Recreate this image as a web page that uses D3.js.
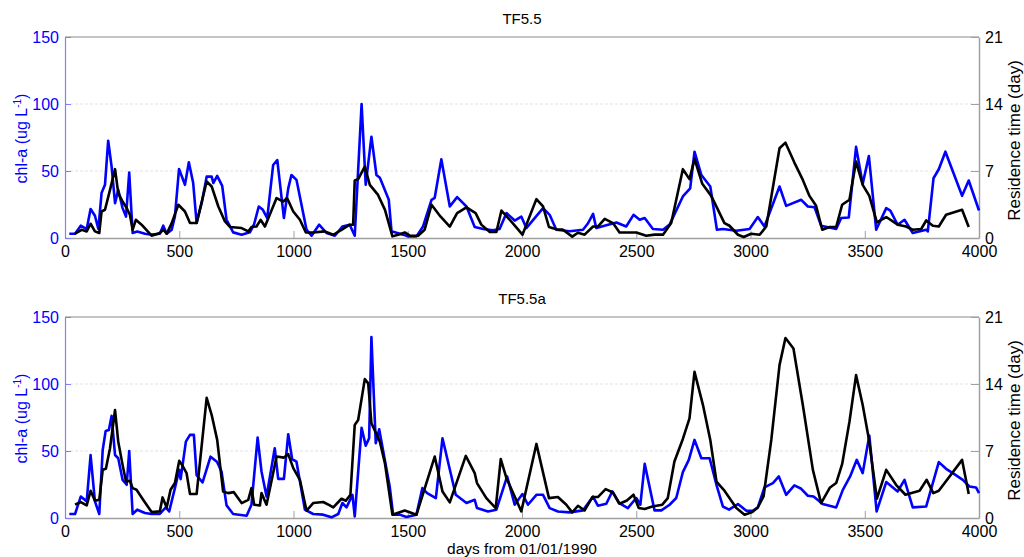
<!DOCTYPE html>
<html><head><meta charset="utf-8">
<script src="https://cdn.jsdelivr.net/npm/d3@7"></script>
<style>
html,body{margin:0;padding:0;background:#fff;}
svg{display:block;font-family:"Liberation Sans",Arial,sans-serif;}
</style></head>
<body>
<svg id="chart" width="1024" height="557"></svg>
<script>
// ---- data ----
const panelTitles = ["TF5.5", "TF5.5a"];
const xTicks = [0, 500, 1000, 1500, 2000, 2500, 3000, 3500, 4000];
const chlTicks = [0, 50, 100, 150];
const resTicks = [0, 7, 14, 21];
const xLabel = "days from 01/01/1990";
const rightLabel = "Residence time (day)";

// TF5.5 chl-a [day, ug/L]
const chlTop = [[19,3.2],[44,3.2],[69,9.2],[95,6.7],[112,21.6],[131,16.6],[146,6.7],[160,33.5],[175,39.7],[189,72.6],[204,53.3],[219,26],[233,36],[252,22.3],[267,16],[281,48.8],[296,3.7],[316,4.9],[350,3.2],[379,2.5],[415,3.2],[430,9.2],[445,3.2],[467,6.2],[481,16],[499,51.5],[525,39.7],[542,56.5],[561,41],[576,11.2],[598,26],[620,45.8],[642,45.8],[649,41],[666,46.3],[688,38.9],[707,13.6],[736,4.2],[773,2.5],[809,4.2],[827,9.9],[848,23.5],[866,21],[885,14.9],[911,54.5],[929,58.2],[958,14.9],[977,37],[991,47],[1013,43.4],[1057,6.2],[1079,1.7],[1112,9.9],[1145,3.7],[1181,1.7],[1214,8.6],[1246,9.9],[1268,1.7],[1298,100],[1316,39.7],[1341,75.6],[1363,47],[1378,45],[1417,28.5],[1429,5],[1480,2.5],[1500,1.2],[1538,1.2],[1567,8.6],[1604,28.5],[1618,30],[1647,58.8],[1684,23.5],[1716,30.5],[1757,23.5],[1793,8.2],[1830,6.7],[1873,5.7],[1902,6.7],[1932,18.6],[1968,13],[1997,16],[2019,7.4],[2092,22.3],[2121,17.3],[2150,6.2],[2209,5],[2267,6.2],[2289,11],[2311,18],[2325,7.4],[2413,11.6],[2456,8.6],[2488,17.3],[2515,13.6],[2537,14.9],[2573,6.7],[2617,6.2],[2646,10],[2704,31],[2736,37],[2755,64.4],[2785,47],[2824,38.4],[2853,6.2],[2879,6.7],[2938,5.4],[2996,6.7],[3032,15.6],[3061,8.6],[3127,38.4],[3156,24],[3222,28.5],[3251,23.5],[3280,23],[3309,9.2],[3375,6.7],[3397,14.9],[3430,15.3],[3462,68],[3491,40.4],[3518,61.2],[3550,6.2],[3594,22.3],[3612,20.5],[3644,9.9],[3674,13.6],[3710,3.7],[3769,6.2],[3776,4.9],[3801,44.6],[3824,51.3],[3853,64.4],[3926,31.5],[3955,42.9],[4000,20.5]];

// TF5.5 residence time [day, days]
const resTop = [[44,0.45],[73,0.86],[95,0.69],[112,1.49],[131,0.69],[150,0.52],[160,2.77],[175,2.95],[197,5.03],[219,7.19],[233,4.69],[252,3.81],[270,3.12],[284,2.43],[296,0.86],[310,1.9],[335,1.39],[379,0.24],[415,0.52],[430,0.86],[445,0.45],[467,1.56],[496,3.47],[525,2.77],[547,1.56],[576,1.56],[620,5.9],[642,5.38],[671,3.29],[700,1.73],[722,1.15],[773,1.04],[802,0.69],[816,1.15],[838,1.2],[856,1.9],[875,1.2],[926,4.17],[955,3.81],[972,4.17],[999,2.77],[1028,1.9],[1054,0.58],[1086,0.58],[1137,0.69],[1174,0.34],[1210,0.86],[1246,1.39],[1261,1.39],[1268,6.0],[1283,6.15],[1312,7.46],[1334,5.55],[1370,4.5],[1400,2.96],[1433,0.17],[1458,0.35],[1487,0.58],[1509,0.24],[1545,0.24],[1574,0.87],[1604,3.47],[1643,2.25],[1684,1.2],[1716,2.6],[1757,3.2],[1797,2.6],[1822,1.4],[1859,0.62],[1888,0.62],[1910,2.87],[1961,1.5],[2002,0.35],[2063,4.06],[2092,3.3],[2118,1.15],[2157,0.87],[2179,0.87],[2220,0.14],[2245,0.55],[2274,0.35],[2311,1.2],[2332,1.2],[2362,2.0],[2398,1.56],[2427,0.58],[2500,0.58],[2544,0.24],[2580,0.35],[2617,0.35],[2653,1.56],[2704,7.19],[2733,6.15],[2755,8.26],[2789,5.66],[2828,4.4],[2886,1.56],[2908,1.28],[2945,0.34],[2970,0.1],[3003,0.45],[3040,0.34],[3069,1.2],[3127,9.37],[3153,9.96],[3192,7.88],[3229,6.07],[3258,4.4],[3287,3.36],[3314,0.86],[3346,1.15],[3375,1.15],[3401,3.47],[3433,4.0],[3462,7.98],[3491,5.55],[3520,4.4],[3553,1.63],[3594,2.19],[3644,1.39],[3681,1.2],[3710,0.86],[3747,0.94],[3769,1.83],[3798,1.28],[3824,1.2],[3856,2.43],[3926,2.95],[3955,1.15]];

// TF5.5a chl-a [day, ug/L]
const chlBottom = [[19,3],[44,3],[69,16],[95,12.4],[112,47],[131,12.4],[150,3],[165,50.8],[178,65],[192,65.7],[204,76.3],[219,47],[233,44.6],[252,28.5],[270,24.8],[281,50],[296,3],[316,6.2],[350,3.7],[379,3],[415,3],[441,7.9],[456,4.9],[481,22.3],[500,36],[506,29],[529,57],[547,62],[564,62],[576,32],[602,26.5],[637,45.8],[666,41.7],[685,34.7],[707,9.4],[736,3],[795,1.7],[816,9.9],[843,60],[860,34.7],[882,16],[918,52],[933,29.2],[958,29.2],[977,62.5],[994,44],[1013,42],[1050,6.2],[1086,3],[1130,2.5],[1166,0.5],[1196,3],[1214,11.2],[1232,7.9],[1258,17.3],[1268,1.2],[1298,67.4],[1316,54],[1331,59.5],[1341,135],[1360,55.8],[1375,66.2],[1421,23.5],[1436,2.5],[1465,2.5],[1494,0.7],[1538,2.5],[1564,22.3],[1585,18.6],[1623,14.9],[1652,59.5],[1710,17.3],[1757,11.2],[1793,13.6],[1803,7.4],[1851,4.9],[1888,6.2],[1935,31],[1968,9.9],[2002,17.9],[2026,9.9],[2063,17.3],[2092,17.3],[2121,7.4],[2157,4.9],[2209,4.2],[2267,5.7],[2311,16],[2332,9.2],[2369,10.6],[2395,19.8],[2424,11.2],[2463,7.4],[2500,14.9],[2518,9.9],[2537,40.4],[2580,5.7],[2610,5.7],[2646,9.9],[2675,14.9],[2704,34.2],[2730,43.4],[2755,58.3],[2785,44.6],[2821,44.6],[2851,24.8],[2879,8.6],[2906,6.2],[2945,10.4],[2982,5.4],[3010,5.4],[3032,7.9],[3061,22.8],[3098,26],[3124,31],[3156,17.3],[3192,24.3],[3222,21.8],[3251,16.6],[3276,16],[3316,10.4],[3375,7.9],[3404,21],[3436,31],[3465,43.4],[3491,33.5],[3520,61.5],[3552,4.9],[3594,26.8],[3644,19.8],[3674,28.5],[3710,7.9],[3769,8.6],[3824,41.7],[3856,36.7],[3892,32.7],[3929,28.5],[3958,23.5],[3987,22.8],[4000,18.6]];

// TF5.5a residence time [day, days]
const resBottom = [[44,1.39],[69,1.67],[95,1.31],[112,2.84],[131,1.8],[150,1.9],[165,5.03],[179,5.14],[197,7.29],[219,11.28],[233,7.98],[252,5.55],[267,3.81],[284,3.89],[296,3.12],[313,2.95],[342,1.9],[379,0.62],[415,0.69],[427,2.15],[445,1.1],[462,2.95],[481,3.65],[500,5.97],[514,5.48],[532,4.69],[547,2.5],[576,2.5],[620,12.56],[642,10.76],[666,8.16],[692,2.77],[714,2.6],[739,2.7],[773,1.56],[802,1.9],[816,3.12],[828,1.39],[853,1.31],[860,2.6],[882,1.39],[926,6.42],[958,6.31],[977,6.67],[999,5.21],[1028,3.99],[1057,0.76],[1086,1.56],[1130,1.67],[1159,1.31],[1174,1.1],[1210,2.01],[1229,1.8],[1249,2.43],[1268,9.72],[1283,10.24],[1312,14.51],[1327,14.06],[1341,9.9],[1378,7.98],[1400,5.73],[1433,0.34],[1487,0.79],[1538,0.34],[1618,6.42],[1652,2.77],[1684,1.63],[1754,6.49],[1793,4.69],[1803,3.65],[1844,2.08],[1885,1.04],[1907,6.15],[1932,4.17],[1968,2.25],[1997,0.69],[2063,7.74],[2118,2.08],[2157,2.19],[2194,1.39],[2220,0.58],[2245,1.28],[2274,0.79],[2308,2.19],[2332,2.19],[2366,3.02],[2398,2.67],[2427,1.49],[2459,1.83],[2488,2.43],[2511,1.04],[2537,0.94],[2570,1.21],[2614,1.39],[2638,2.08],[2667,5.9],[2704,8.26],[2733,10.4],[2755,15.27],[2792,11.8],[2824,8.16],[2851,3.81],[2883,2.95],[2938,1.04],[2974,0.34],[3008,0.62],[3032,1.1],[3057,2.25],[3091,8.16],[3127,15.97],[3153,18.81],[3188,17.71],[3229,11.8],[3273,5.03],[3309,1.56],[3348,3.19],[3375,3.65],[3401,5.62],[3433,10.06],[3462,14.93],[3491,11.8],[3518,8.26],[3553,2.01],[3594,5.03],[3637,3.47],[3678,2.43],[3740,2.84],[3771,3.99],[3800,2.6],[3824,2.84],[3926,6.07],[3955,2.5]];

const panels = [
  {title: panelTitles[0], chl: chlTop, res: resTop, top: 37},
  {title: panelTitles[1], chl: chlBottom, res: resBottom, top: 317}
];

// ---- drawing ----
const svg = d3.select("#chart");
const L = 65, R = 979, H = 201;
const blue = "#0000ff";
const x = d3.scaleLinear().domain([0, 4000]).range([L, R]);

panels.forEach((p, i) => {
  const yL = d3.scaleLinear().domain([0, 150]).range([p.top + H, p.top]);
  const yR = d3.scaleLinear().domain([0, 21]).range([p.top + H, p.top]);
  const g = svg.append("g");

  // grid lines
  g.selectAll("line.grid").data([50, 100]).join("line")
    .attr("x1", L).attr("x2", R)
    .attr("y1", d => yL(d)).attr("y2", d => yL(d))
    .attr("stroke", "#e2e2e2").attr("stroke-width", 1)
    .attr("stroke-dasharray", "3,2");

  // top frame line
  g.append("line").attr("x1", L).attr("x2", R)
    .attr("y1", p.top).attr("y2", p.top)
    .attr("stroke", "#b0b0b0").attr("stroke-width", 1.5);

  // x axis
  const xa = g.append("g").attr("transform", `translate(0,${p.top + H})`)
    .call(d3.axisBottom(x).tickValues(xTicks).tickFormat(d3.format("d"))
      .tickSizeInner(-7).tickSizeOuter(0).tickPadding(8));
  xa.select(".domain").attr("stroke", "#a0a0a0").attr("stroke-width", 1.5);
  xa.selectAll(".tick line").attr("stroke", "#a0a0a0");
  xa.selectAll("text").attr("fill", "#000").style("font-size", "16px");

  // left axis
  const la = g.append("g").attr("transform", `translate(${L},0)`)
    .call(d3.axisLeft(yL).tickValues(chlTicks).tickSizeInner(-6).tickSizeOuter(0).tickPadding(6));
  la.select(".domain").attr("stroke", "#8080ff").attr("stroke-width", 1.2);
  la.selectAll(".tick line").attr("stroke", "#8080ff");
  la.selectAll("text").attr("fill", blue).style("font-size", "16px");

  // right axis
  const ra = g.append("g").attr("transform", `translate(${R},0)`)
    .call(d3.axisRight(yR).tickValues(resTicks).tickSizeInner(-8).tickSizeOuter(0).tickPadding(6));
  ra.select(".domain").attr("stroke", "#a0a0a0").attr("stroke-width", 1.5);
  ra.selectAll(".tick line").attr("stroke", "#a0a0a0");
  ra.selectAll("text").attr("fill", "#000").style("font-size", "16px");

  // lines
  const lineL = d3.line().x(d => x(d[0])).y(d => yL(d[1]));
  const lineR = d3.line().x(d => x(d[0])).y(d => yR(d[1]));
  g.append("path").datum(p.chl).attr("d", lineL)
    .attr("fill", "none").attr("stroke", blue).attr("stroke-width", 2.6)
    .attr("stroke-linejoin", "round");
  g.append("path").datum(p.res).attr("d", lineR)
    .attr("fill", "none").attr("stroke", "#000").attr("stroke-width", 2.6)
    .attr("stroke-linejoin", "round");

  // title
  g.append("text").attr("x", (L + R) / 2).attr("y", p.top - 13)
    .attr("text-anchor", "middle").style("font-size", "15px").attr("fill", "#000")
    .text(p.title);

  // left label
  const cy = p.top + H / 2;
  const lt = g.append("text").attr("transform", `translate(27,${cy + 1}) rotate(-90)`)
    .attr("text-anchor", "middle").style("font-size", "16px").attr("fill", blue);
  lt.append("tspan").text("chl-a (ug L");
  lt.append("tspan").attr("dy", -6).style("font-size", "10px").text("-1");
  lt.append("tspan").attr("dy", 6).text(")");

  // right label
  g.append("text").attr("transform", `translate(1020,${cy + 3}) rotate(-90)`)
    .attr("text-anchor", "middle").style("font-size", "17px").attr("fill", "#000")
    .text(rightLabel);
});

svg.append("text").attr("x", (L + R) / 2).attr("y", 554)
  .attr("text-anchor", "middle").style("font-size", "15.5px").attr("fill", "#000")
  .text(xLabel);
</script>
</body></html>
